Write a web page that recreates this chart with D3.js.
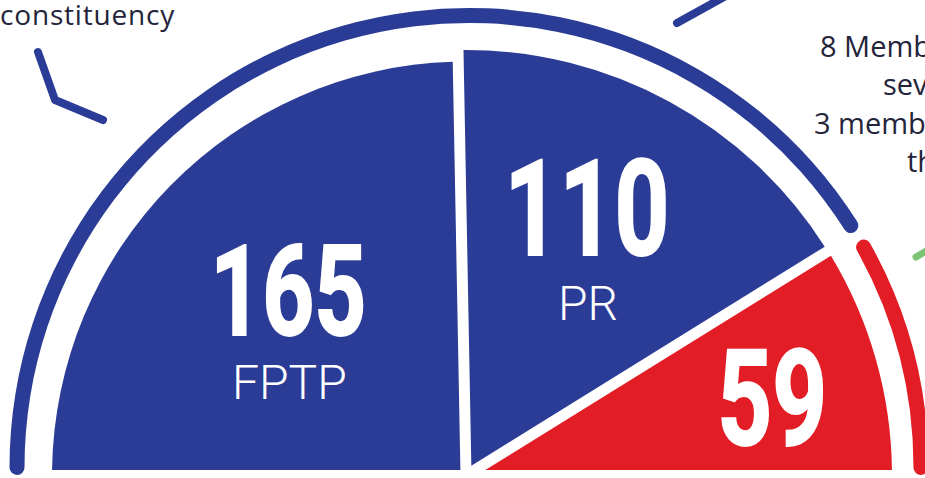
<!DOCTYPE html>
<html>
<head>
<meta charset="UTF-8">
<title>Seat allocation</title>
<style>
  body { margin: 0; background: #fff; }
  svg { display: block; }
</style>
</head>
<body>
<svg></svg>
<script src="https://d3js.org/d3.v7.min.js"></script>
<script>

let width = 925, height = 478;

// seats per type of member
let categories = ["FPTP", "PR", "Other"];
let seats = [165, 110, 59];
let names = ["FPTP", "PR", ""];
let ringGroup = ["house", "house", "assembly"];

// annotation text
let noteLeft = ["constituency"];
let noteRight = ["8 Members from each of the", "seven provinces and", "3 members from", "the President"];

const BLUE = "#2a3c96", RED = "#e31d25", GREEN = "#7cc576", INK = "#24243a";

let svg = d3.select("svg")
    .attr("width", width)
    .attr("height", height)
    .attr("viewBox", "0 0 " + width + " " + height);

let color = d3.scaleOrdinal()
    .domain(categories)
    .range([BLUE, BLUE, RED]);

// outer ring, split between the two houses
let ringCx = 469, ringCy = 467.5, ringR = 452, ringW = 15;
let ringData = d3.rollups(d3.range(seats.length), v => d3.sum(v, i => seats[i]), i => ringGroup[i]);
let ringExt = 12.5 / ringR;

let ringPie = d3.pie()
    .sort(null)
    .value(d => d[1])
    .startAngle(-Math.PI / 2 - ringExt)
    .endAngle(Math.PI / 2 + ringExt);

let ringArc = d3.arc()
    .innerRadius(ringR - ringW / 2)
    .outerRadius(ringR + ringW / 2)
    .cornerRadius(ringW / 2)
    .padRadius(ringR)
    .padAngle(2 * Math.asin(5 / ringR));

svg.append("g")
    .attr("transform", "translate(" + ringCx + "," + ringCy + ")")
    .selectAll("path")
    .data(ringPie(ringData))
    .enter().append("path")
    .attr("d", ringArc)
    .attr("fill", d => d.data[0] === "house" ? BLUE : RED);

// the half pie
let cx = 466, cy = 475.5, gap = 11, padR = 420;
let sliceR = [414, 425.5, 426];

let pie = d3.pie()
    .sort(null)
    .startAngle(-Math.PI / 2)
    .endAngle(Math.PI / 2);

let arc = d3.arc()
    .outerRadius(d => sliceR[d.index])
    .innerRadius(d => (gap / 2) / Math.sin((d.endAngle - d.startAngle) / 2))
    .padRadius(padR)
    .padAngle(2 * Math.asin(gap / 2 / padR));

let arcs = pie(seats);

let slices = svg.append("g")
    .attr("transform", "translate(" + cx + "," + cy + ")");

slices.selectAll("path")
    .data(arcs)
    .enter().append("path")
    .attr("d", arc)
    .attr("fill", (d, i) => color(categories[i]));

// labels
let labelR = [236, 264, 316], labelTurn = [-3.3, -1.3, 1.6];
let numSize = [126, 133, 133];

arcs.forEach(d => {
    let i = d.index;
    let a = (d.startAngle + d.endAngle) / 2 + labelTurn[i] * Math.PI / 180;
    let c = d3.arc().innerRadius(labelR[i]).outerRadius(labelR[i]).centroid({startAngle: a, endAngle: a});
    let hasName = names[i] !== "";
    let numY = hasName ? c[1] + 14.5 : c[1] + numSize[i] * 0.71 / 2;

    slices.append("g")
        .attr("transform", "translate(" + c[0] + "," + numY + ") scale(0.72,1)")
        .append("text")
        .attr("text-anchor", "middle")
        .attr("font-family", "Roboto, sans-serif")
        .attr("font-weight", 700)
        .attr("font-size", numSize[i])
        .attr("fill", "#fff")
        .attr("stroke", "#fff")
        .attr("stroke-width", 2)
        .text(seats[i]);

    if (hasName) {
        slices.append("text")
            .attr("x", c[0] + 1)
            .attr("y", c[1] + 79)
            .attr("text-anchor", "middle")
            .attr("font-family", "Roboto, sans-serif")
            .attr("font-weight", 300)
            .attr("font-size", 48)
            .attr("fill", "#fff")
            .text(names[i]);
    }
});

// leader lines of the annotations
let leaders = [
    {pts: [[38, 52], [55, 100], [103, 120]], c: BLUE, w: 8},
    {pts: [[677, 23], [724, -3]], c: BLUE, w: 8},
    {pts: [[916, 257], [940, 243]], c: GREEN, w: 7}
];
let line = d3.line();
svg.append("g")
    .selectAll("path")
    .data(leaders)
    .enter().append("path")
    .attr("d", d => line(d.pts))
    .attr("fill", "none")
    .attr("stroke", d => d.c)
    .attr("stroke-width", d => d.w)
    .attr("stroke-linecap", "round")
    .attr("stroke-linejoin", "round");

svg.append("text")
    .attr("x", 175)
    .attr("y", 25)
    .attr("text-anchor", "end")
    .attr("font-family", "'Open Sans', sans-serif")
    .attr("font-size", 28)
    .attr("letter-spacing", 0.8)
    .attr("fill", INK)
    .text(noteLeft[0]);

let rightX = [820, 883, 814, 907];
svg.append("g")
    .selectAll("text")
    .data(noteRight)
    .enter().append("text")
    .attr("x", (d, i) => rightX[i])
    .attr("y", (d, i) => 57 + i * 38.3)
    .attr("font-family", "'Open Sans', sans-serif")
    .attr("font-size", 29)
    .attr("fill", INK)
    .text(d => d);

</script>
</body>
</html>
